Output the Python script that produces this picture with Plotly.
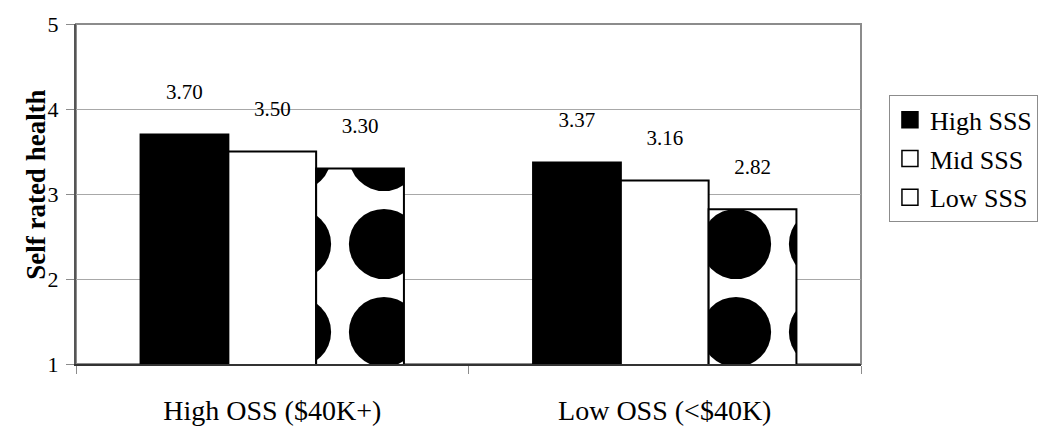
import plotly.graph_objects as go

categories = ["High OSS ($40K+)", "Low OSS (<$40K)"]
series_names = ["High SSS", "Mid SSS", "Low SSS"]
high_sss = [3.70, 3.37]
mid_sss = [3.50, 3.16]
low_sss = [3.30, 2.82]
y_ticks = [1, 2, 3, 4, 5]
y_title = "Self rated health"

FONT = "Liberation Serif, Times New Roman, serif"

fig = go.Figure()

bar_styles = [
    dict(color="black", line=dict(color="black", width=2)),
    dict(color="white", line=dict(color="black", width=2)),
    dict(color="white", line=dict(color="black", width=2),
         pattern=dict(shape=".", fgcolor="black", bgcolor="white",
                      size=88, solidity=0.5, fillmode="replace")),
]

for name, vals, style in zip(series_names, [high_sss, mid_sss, low_sss], bar_styles):
    fig.add_trace(go.Bar(
        x=categories, y=vals, name=name, marker=style,
        texttemplate="%{y:.2f}<br> ", textposition="outside",
        textfont=dict(family=FONT, size=21, color="black"),
        cliponaxis=False, showlegend=False, hoverinfo="skip",
    ))

legend_fill = ["black", "white", "white"]
for i, (name, fill) in enumerate(zip(series_names, legend_fill)):
    fig.add_trace(go.Scatter(
        x=[None], y=[None], mode="markers", name=name,
        legendgroup=f"g{i}",
        marker=dict(symbol="square", size=17, color=fill,
                    line=dict(color="black", width=1.5)),
    ))

fig.update_layout(
    width=1050, height=438,
    margin=dict(l=76, r=187, t=18, b=62),
    paper_bgcolor="white", plot_bgcolor="white",
    barmode="group", bargap=0.329, bargroupgap=0,
    font=dict(family=FONT, color="black"),
    legend=dict(
        x=1.0356, y=0.7905, xanchor="left", yanchor="top",
        bordercolor="#8c8c8c", borderwidth=1,
        font=dict(family=FONT, size=26, color="black"),
        tracegroupgap=2, itemsizing="trace",
    ),
    shapes=[dict(type="rect", xref="paper", yref="paper", x0=0, x1=1, y0=0, y1=1,
                 line=dict(color="#8c8c8c", width=2), layer="below")],
    annotations=[dict(text=f"<b>{y_title}</b>", xref="paper", yref="paper",
                      x=-0.0505, y=0.528, xanchor="center", yanchor="middle",
                      textangle=-90, showarrow=False,
                      font=dict(family=FONT, size=27, color="black"))],
)

fig.update_xaxes(
    type="category", tickson="boundaries", ticks="outside", ticklen=8,
    tickcolor="#8c8c8c", showline=True, linecolor="#333333", linewidth=2,
    tickfont=dict(family=FONT, size=28, color="black"), showgrid=False,
    ticklabelstandoff=20,
)
fig.update_yaxes(
    range=[1, 5], tickvals=y_ticks, ticks="outside", ticklen=8,
    tickcolor="#8c8c8c", showline=True, linecolor="#555555", linewidth=2,
    showgrid=True, gridcolor="#a8a8a8", gridwidth=1, zeroline=False,
    tickfont=dict(family=FONT, size=22, color="black"),
    ticklabelstandoff=3,
)

fig.write_html("out.html", config={"displayModeBar": False},
               post_script="document.body.style.margin='0';")
